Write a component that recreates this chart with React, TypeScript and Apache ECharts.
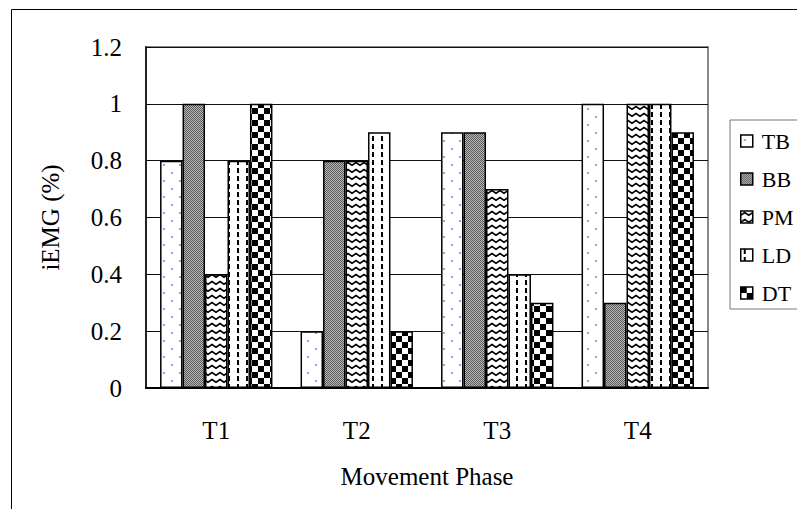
import React, { useEffect, useRef } from "react";
import * as echarts from "echarts";

const categories = ["T1", "T2", "T3", "T4"];
const seriesNames = ["TB", "BB", "PM", "LD", "DT"];
const tbValues = [0.8, 0.2, 0.9, 1.0];
const bbValues = [1.0, 0.8, 0.9, 0.3];
const pmValues = [0.4, 0.8, 0.7, 1.0];
const ldValues = [0.8, 0.9, 0.4, 1.0];
const dtValues = [1.0, 0.2, 0.3, 0.9];
const yTicks = { min: 0, max: 1.2, interval: 0.2 };
const xAxisName = "Movement Phase";
const yAxisName = "iEMG (%)";

const FONT = "'Liberation Serif', 'DejaVu Serif', serif";
const FS = 25;

function makeCanvas(w: number, h: number, draw: (ctx: CanvasRenderingContext2D) => void) {
  const c = document.createElement("canvas");
  c.width = w;
  c.height = h;
  const ctx = c.getContext("2d")!;
  ctx.fillStyle = "#ffffff";
  ctx.fillRect(0, 0, w, h);
  draw(ctx);
  return c;
}

function makePatterns() {
  const tb = makeCanvas(16, 16, (ctx) => {
    ctx.fillStyle = "#9c9cf0";
    ctx.fillRect(3, 4, 2, 2);
    ctx.fillRect(11, 12, 2, 2);
  });
  const bb = makeCanvas(2, 2, (ctx) => {
    ctx.fillStyle = "#5a5a5a";
    ctx.fillRect(0, 0, 1, 1);
    ctx.fillRect(1, 1, 1, 1);
    ctx.fillStyle = "#b8b8b8";
    ctx.fillRect(1, 0, 1, 1);
    ctx.fillRect(0, 1, 1, 1);
  });
  const pm = makeCanvas(8, 7, (ctx) => {
    ctx.strokeStyle = "#000";
    ctx.lineWidth = 1.6;
    ctx.beginPath();
    ctx.moveTo(-1, 5);
    ctx.lineTo(4, 1.5);
    ctx.lineTo(9, 5);
    ctx.stroke();
  });
  const ld = makeCanvas(9, 8, (ctx) => {
    ctx.fillStyle = "#000";
    ctx.fillRect(3, 0, 2, 5);
  });
  const dt = makeCanvas(12, 12, (ctx) => {
    ctx.fillStyle = "#000";
    ctx.fillRect(0, 0, 6, 6);
    ctx.fillRect(6, 6, 6, 6);
  });
  return [tb, bb, pm, ld, dt];
}

export default function App() {
  const ref = useRef<HTMLDivElement>(null);

  useEffect(() => {
    if (!ref.current) return;
    const chart = echarts.init(ref.current, undefined, { renderer: "svg" });
    const patterns = makePatterns();
    const values = [tbValues, bbValues, pmValues, ldValues, dtValues];

    chart.setOption({
      animation: false,
      backgroundColor: "#ffffff",
      textStyle: { fontFamily: FONT },
      graphic: [
        {
          type: "rect",
          shape: { x: 11.5, y: 9.5, width: 900, height: 501 },
          style: { fill: "none", stroke: "#000", lineWidth: 1 },
          silent: true,
          z: -10,
        },
      ],
      grid: {
        left: 146,
        right: 89,
        top: 47,
        bottom: 121,
        show: true,
        borderColor: "#8a8a8a",
        borderWidth: 2,
        backgroundColor: "transparent",
      },
      legend: {
        orient: "vertical",
        left: 730,
        top: 120,
        padding: [10, 60, 5, 10],
        itemGap: 16,
        itemWidth: 12,
        itemHeight: 12,
        icon: "rect",
        borderColor: "#777",
        borderWidth: 1,
        backgroundColor: "#fff",
        data: seriesNames,
        itemStyle: { borderColor: "#000", borderWidth: 1.5 },
        textStyle: {
          fontFamily: FONT,
          fontSize: 22,
          color: "#000",
          padding: [0, 0, 0, 4],
        },
      },
      xAxis: {
        type: "category",
        data: categories,
        name: xAxisName,
        nameLocation: "middle",
        nameGap: 76,
        nameTextStyle: { fontFamily: FONT, fontSize: FS, color: "#000" },
        axisLine: { lineStyle: { color: "#000", width: 2 } },
        axisTick: { inside: true, length: 7, lineStyle: { color: "#000" } },
        axisLabel: { margin: 30, fontFamily: FONT, fontSize: FS, color: "#000" },
      },
      yAxis: {
        type: "value",
        min: yTicks.min,
        max: yTicks.max,
        interval: yTicks.interval,
        name: yAxisName,
        nameLocation: "middle",
        nameGap: 83,
        nameTextStyle: { fontFamily: FONT, fontSize: FS, color: "#000" },
        axisLine: { show: true, lineStyle: { color: "#222", width: 2 } },
        axisTick: { show: true, inside: true, length: 5, lineStyle: { color: "#000" } },
        axisLabel: { margin: 24, fontFamily: FONT, fontSize: FS, color: "#000" },
        splitLine: { show: true, lineStyle: { color: "#111", width: 1 } },
      },
      series: seriesNames.map((name, i) => ({
        name,
        type: "bar",
        data: values[i],
        barGap: "0%",
        barCategoryGap: "20%",
        itemStyle: {
          color: { image: patterns[i], repeat: "repeat" },
          borderColor: "#000",
          borderWidth: 1.5,
        },
      })),
    });

    return () => chart.dispose();
  }, []);

  return (
    <div
      ref={ref}
      style={{ position: "fixed", left: 0, top: 0, width: 797, height: 509 }}
    />
  );
}
